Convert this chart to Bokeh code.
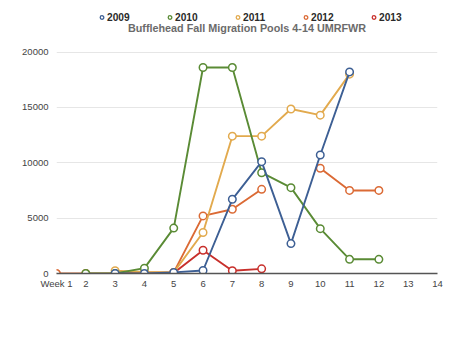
import math
from bokeh.plotting import figure
from bokeh.models import Legend, LegendItem, FixedTicker, ColumnDataSource, Label
from bokeh.embed import file_html
from bokeh.resources import INLINE

nan = float("nan")
weeks = [1, 2, 3, 4, 5, 6, 7, 8, 9, 10, 11, 12]
s2009 = [nan, nan, 0, 0, 100, 270, 6700, 10100, 2700, 10700, 18200, nan]
s2010 = [nan, 0, 0, 480, 4100, 18600, 18600, 9100, 7750, 4050, 1280, 1280]
s2011 = [nan, nan, 250, 150, 100, 3700, 12400, 12400, 14850, 14300, 18000, nan]
s2012 = [0, 0, 0, 100, 100, 5200, 5800, 7600, nan, 9500, 7500, 7500]
s2013 = [nan, nan, nan, nan, 50, 2100, 250, 420, nan, nan, nan, nan]
series_names = ["2009", "2010", "2011", "2012", "2013"]
series_vals = [s2009, s2010, s2011, s2012, s2013]
colors = ["#3d5f94", "#5a8b35", "#e2aa4e", "#db6a35", "#c8302c"]
x_tick_labels = {1: "Week 1", 2: "2", 3: "3", 4: "4", 5: "5", 6: "6", 7: "7",
                 8: "8", 9: "9", 10: "10", 11: "11", 12: "12", 13: "13", 14: "14"}
y_ticks = [0, 5000, 10000, 15000, 20000]
title_text = "Bufflehead Fall Migration Pools 4-14 UMRFWR"

FRAME_H = 273
Y_TOP = 20000 * FRAME_H / 221.5

p = figure(width=474, height=343, output_backend="svg", toolbar_location=None,
           x_range=(1, 14), y_range=(0, Y_TOP),
           min_border_left=56, min_border_right=37, min_border_top=0, min_border_bottom=70)
p.outline_line_color = None
p.background_fill_color = "white"
p.border_fill_color = "white"

font = "Liberation Sans"
p.xaxis.ticker = FixedTicker(ticks=list(x_tick_labels.keys()))
p.xaxis.major_label_overrides = x_tick_labels
p.yaxis.ticker = FixedTicker(ticks=y_ticks)
for ax in (p.xaxis, p.yaxis):
    ax.major_tick_line_color = None
    ax.minor_tick_line_color = None
    ax.major_tick_out = 0
    ax.major_tick_in = 0
    ax.minor_tick_out = 0
    ax.major_label_text_font = font
    ax.major_label_text_font_size = "9.5px"
    ax.major_label_text_color = "#444444"
p.yaxis.axis_line_color = None
p.yaxis.major_label_standoff = 8
p.xaxis.axis_line_color = "#555555"
p.xaxis.axis_line_width = 1.5
p.xaxis.major_label_standoff = 4
p.xgrid.grid_line_color = None
p.ygrid.grid_line_color = "#e6e6e6"
p.ygrid.grid_line_width = 1.2

title = Label(x=7.5, y=FRAME_H - 27, x_units="data", y_units="screen", text=title_text,
              text_align="center", text_baseline="middle", text_font=font,
              text_font_size="10.8px", text_font_style="bold", text_color="#6b6b6b")
p.add_layout(title)

for i in list(range(len(series_names)))[::-1]:
    src = ColumnDataSource(dict(x=weeks, y=series_vals[i]))
    p.line("x", "y", source=src, line_color=colors[i], line_width=1.9)
    p.scatter("x", "y", source=src, marker="circle", size=7.5, fill_color="white",
              line_color=colors[i], line_width=1.5)

legend_renderers = []
for i in range(len(series_names)):
    r = p.scatter(x=[nan], y=[nan], marker="circle", size=6, fill_color="white",
                  line_color=colors[i], line_width=1.3)
    legend_renderers.append(r)

items = [LegendItem(label=series_names[i], renderers=[legend_renderers[i]])
         for i in range(len(series_names))]

legend = Legend(items=items, orientation="horizontal", location=(41, FRAME_H - 23),
                label_text_font=font, label_text_font_size="10.2px", label_text_font_style="bold",
                label_text_color="#2a2a2a", glyph_width=9, glyph_height=12, label_height=12,
                label_standoff=1, label_width=24, spacing=34, padding=0, margin=0,
                border_line_color=None, background_fill_alpha=0)
p.add_layout(legend, "center")

open("out.html", "w").write(file_html(p, INLINE))
